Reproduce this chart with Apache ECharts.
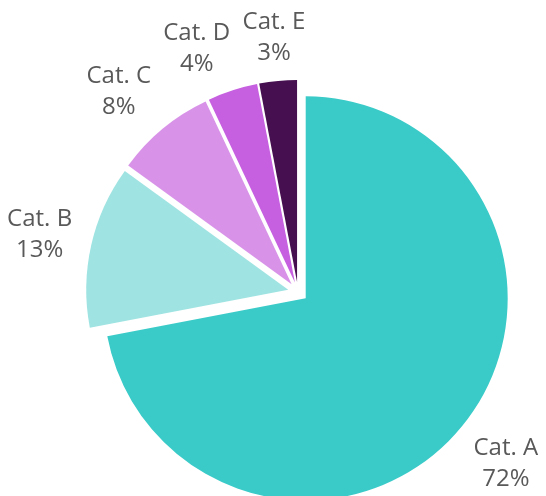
<!DOCTYPE html>
<html>
<head>
<meta charset="utf-8">
<script src="https://cdn.jsdelivr.net/npm/echarts@6/dist/echarts.min.js"></script>
<style>
html,body{margin:0;padding:0;background:#fff;}
#chart{width:546px;height:496px;}
</style>
</head>
<body>
<div id="chart"></div>
<script>
// ---- data ----
const categories = ['Cat. A', 'Cat. B', 'Cat. C', 'Cat. D', 'Cat. E'];
const values = [72, 13, 8, 4, 3];
const sliceColors = ['#3ACBC8', '#9FE4E2', '#D893E8', '#C65FE0', '#460F50'];

// ---- layout / style ----
const W = 546, H = 496;
const CENTER = [298, 292];
const RADIUS = 202;
const EXPLODE = 10;
const FONT_FAMILY = 'Open Sans';
const FONT_SIZE = 24;
const LINE_H = 31;
const TEXT_COLOR = '#595959';
const LABEL_CLEAR = 218;   // distance from slice centre to nearest edge of label box
const LABEL_BOX_H = 52;
const LABEL_MARGIN = 12;

const total = values.reduce((a, b) => a + b, 0);
const measureCtx = document.createElement('canvas').getContext('2d');
measureCtx.font = FONT_SIZE + 'px "' + FONT_FAMILY + '"';

function pctText(i) { return Math.round(values[i] / total * 100) + '%'; }

// Excel-like "outside end" label placement for an exploded pie:
// label box pushed out along the slice bisector, rotated away from neighbours on collision.
function computeLabelAnchors() {
  let acc = 0;
  const mids = values.map(v => { const m = (acc + v / 2) / total * 2 * Math.PI; acc += v; return m; });
  const placed = [];
  const out = [];
  for (let i = values.length - 1; i >= 0; i--) {
    const mid = mids[i];
    const ex = CENTER[0] + EXPLODE * Math.sin(mid);
    const ey = CENTER[1] - EXPLODE * Math.cos(mid);
    const w = Math.max(measureCtx.measureText(categories[i]).width, measureCtx.measureText(pctText(i)).width);
    const h = LABEL_BOX_H;
    let theta = mid, box = null;
    for (let k = 0; k < 400; k++) {
      const ux = Math.sin(theta), uy = -Math.cos(theta);
      let t = 0;
      while (t < 1000) {
        const d = Math.hypot(Math.max(Math.abs(ux * t) - w / 2, 0), Math.max(Math.abs(uy * t) - h / 2, 0));
        if (d >= LABEL_CLEAR) break;
        t += 0.25;
      }
      box = { x: ex + ux * t, y: ey + uy * t, w: w, h: h };
      const hit = placed.some(b => Math.abs(b.x - box.x) < (b.w + box.w) / 2 + LABEL_MARGIN &&
                                   Math.abs(b.y - box.y) < (b.h + box.h) / 2 + 4);
      if (!hit) break;
      theta -= Math.PI / 720;
    }
    placed.push(box);
    out[i] = box;
  }
  return out;
}

const anchors = computeLabelAnchors();

const chart = echarts.init(document.getElementById('chart'), null, { renderer: 'canvas' });
chart.setOption({
  animation: false,
  backgroundColor: '#ffffff',
  grid: { left: 0, right: 0, top: 0, bottom: 0, containLabel: false },
  xAxis: { type: 'value', min: 0, max: W, show: false },
  yAxis: { type: 'value', min: 0, max: H, inverse: true, show: false },
  series: [{
    type: 'pie',
    center: CENTER,
    radius: RADIUS,
    startAngle: 90,
    clockwise: true,
    selectedMode: 'multiple',
    selectedOffset: EXPLODE,
    emphasis: { disabled: true },
    itemStyle: { borderWidth: 0 },
    label: { show: false },
    labelLine: { show: false },
    data: categories.map((c, i) => ({
      name: c,
      value: values[i],
      selected: true,
      itemStyle: { color: sliceColors[i] }
    }))
  }, {
    type: 'scatter',
    silent: true,
    symbolSize: 1,
    itemStyle: { color: 'rgba(255,255,255,0)', opacity: 1 },
    emphasis: { disabled: true },
    label: {
      show: true,
      position: 'inside',
      opacity: 1,
      color: TEXT_COLOR,
      fontFamily: FONT_FAMILY,
      fontSize: FONT_SIZE,
      lineHeight: LINE_H,
      align: 'center',
      verticalAlign: 'middle',
      formatter: p => categories[p.dataIndex] + '\n' + pctText(p.dataIndex)
    },
    data: anchors.map(a => [a.x, a.y])
  }]
});
</script>
</body>
</html>
